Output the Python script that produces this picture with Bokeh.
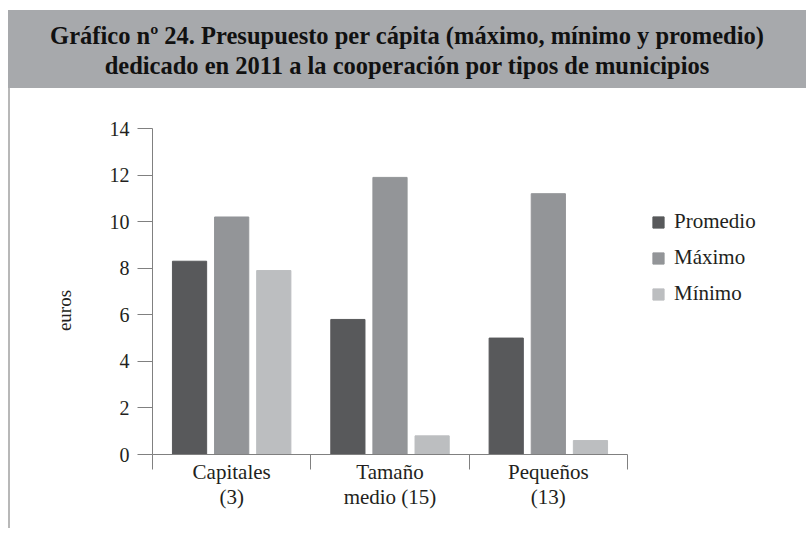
import math
from bokeh.plotting import figure
from bokeh.models import (ColumnDataSource, Range1d, FixedTicker, Legend, LegendItem,
                          LinearAxis, Div)
from bokeh.layouts import column
from bokeh.transform import dodge
from bokeh.embed import file_html
from bokeh.resources import INLINE

# ---- data ----
categories = ["Capitales\n(3)", "Tamaño\nmedio (15)", "Pequeños\n(13)"]
series_names = ["Promedio", "Máximo", "Mínimo"]
promedio = [8.3, 5.8, 5.0]
maximo = [10.2, 11.9, 11.2]
minimo = [7.9, 0.8, 0.6]
y_ticks = [0, 2, 4, 6, 8, 10, 12, 14]

title_lines = ["Gráfico nº 24. Presupuesto per cápita (máximo, mínimo y promedio)",
               "dedicado en 2011 a la cooperación por tipos de municipios"]

colors = ["#58595b", "#939598", "#bcbec0"]
FONT = "Liberation Serif"
TXT = "#231f20"
AXC = "#808080"

# ---- header ----
header = Div(text="<br>".join(title_lines), width=798, height=80, margin=0,
             styles={"background": "linear-gradient(to bottom, #ffffff 0px, #ffffff 2px, #a7a9ac 2px, #a7a9ac 100%)",
                     "font-family": FONT,
                     "font-weight": "bold", "font-size": "24.5px", "line-height": "30px",
                     "color": "#111111", "text-align": "center",
                     "box-sizing": "border-box", "padding-top": "13px",
                     "width": "798px", "height": "80px"})

# ---- main chart ----
src = ColumnDataSource(dict(x=list(range(len(categories))),
                            promedio=promedio, maximo=maximo, minimo=minimo))

p = figure(frame_width=473, frame_height=326, x_range=Range1d(-0.5, len(categories) - 0.5),
           y_range=Range1d(0, 14), output_backend="svg", toolbar_location=None,
           x_axis_type=None, y_axis_type=None,
           min_border_left=142, min_border_right=176, min_border_top=40, min_border_bottom=74)
p.outline_line_color = None
p.styles = {"border-left": "2px solid #b8b8b8"}

yax = LinearAxis(ticker=FixedTicker(ticks=y_ticks))
yax.axis_line_color = AXC
yax.major_tick_line_color = AXC
yax.major_tick_out = 15
yax.major_tick_in = 0
yax.minor_tick_line_color = None
yax.major_label_text_font = FONT
yax.major_label_text_font_size = "20px"
yax.major_label_text_color = TXT
yax.major_label_standoff = 8
yax.axis_label = "euros" + "\u00a0" * 8
yax.axis_label_text_font = FONT
yax.axis_label_text_font_size = "19px"
yax.axis_label_text_font_style = "normal"
yax.axis_label_text_color = TXT
yax.axis_label_standoff = 32
p.add_layout(yax, "left")

xax = LinearAxis(ticker=FixedTicker(ticks=list(range(len(categories))),
                                    minor_ticks=[i - 0.5 for i in range(len(categories) + 1)]))
xax.axis_line_color = AXC
xax.major_tick_line_color = None
xax.major_tick_out = 0
xax.major_tick_in = 0
xax.minor_tick_line_color = AXC
xax.minor_tick_out = 15
xax.minor_tick_in = 0
xax.major_label_overrides = {i: c for i, c in enumerate(categories)}
xax.major_label_text_font = FONT
xax.major_label_text_font_size = "21px"
xax.major_label_text_line_height = 1.05
xax.major_label_text_color = TXT
xax.major_label_standoff = -10
p.add_layout(xax, "below")

p.ygrid.grid_line_color = "#d9d9d9"
p.ygrid.grid_line_width = 1.5
p.ygrid.ticker = FixedTicker(ticks=y_ticks)
p.xgrid.grid_line_color = None

off = 0.266
w = 0.216
r1 = p.vbar(x=dodge("x", -off), top="promedio", width=w, source=src, color=colors[0])
r2 = p.vbar(x=dodge("x", 0.0), top="maximo", width=w, source=src, color=colors[1])
r3 = p.vbar(x=dodge("x", off), top="minimo", width=w, source=src, color=colors[2])

legend = Legend(items=[LegendItem(label=series_names[0], renderers=[r1]),
                       LegendItem(label=series_names[1], renderers=[r2]),
                       LegendItem(label=series_names[2], renderers=[r3])],
                location=(24, 148))
legend.border_line_color = None
legend.background_fill_alpha = 0
legend.padding = 0
legend.margin = 0
legend.spacing = 11
legend.glyph_width = 14
legend.glyph_height = 14
legend.label_height = 24
legend.label_standoff = 9
legend.label_text_font = FONT
legend.label_text_font_size = "21px"
legend.label_text_color = TXT
p.add_layout(legend, "right")

layout = column(header, p, spacing=0,
                styles={"margin-left": "8px", "margin-top": "8px"})
open("out.html", "w").write(file_html(layout, INLINE))
